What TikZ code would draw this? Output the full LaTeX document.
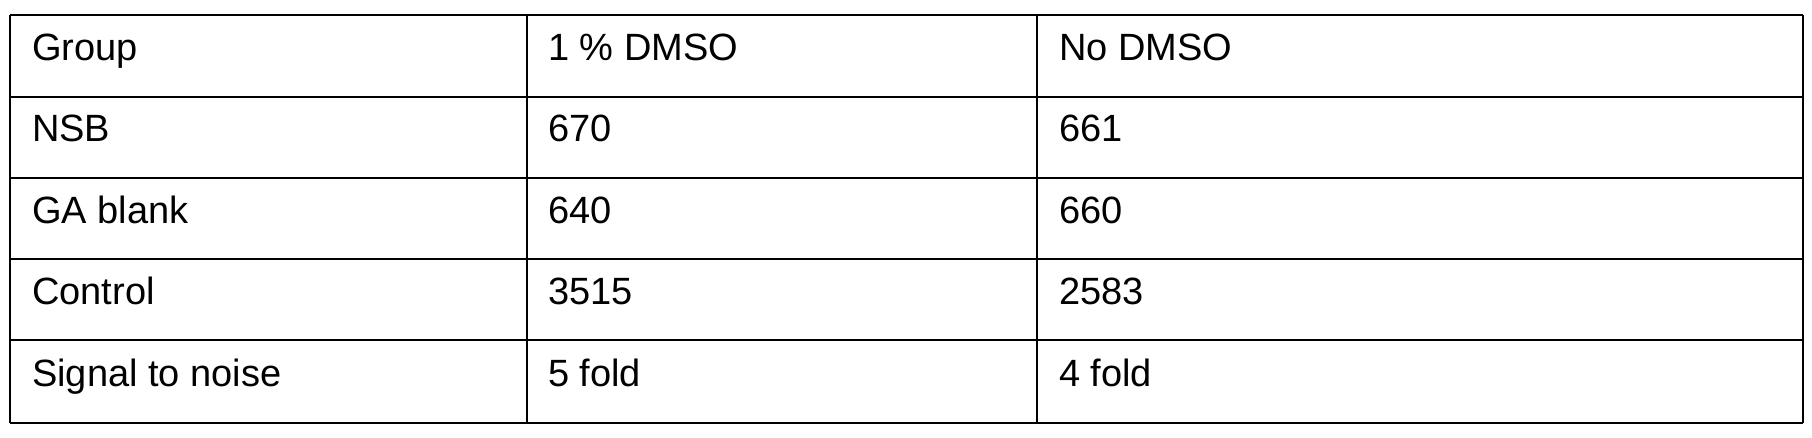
\documentclass[tikz,border=0pt]{standalone}
\usepackage{fontspec}
\setmainfont{Liberation Sans}
\begin{document}
\begin{tikzpicture}[x=1pt,y=-1pt,
  grid/.style={line width=2.6pt,black},
  cell/.style={anchor=base west,inner sep=0pt,font=\fontsize{38}{44}\selectfont}]
\useasboundingbox (0,0) rectangle (1812,437);
\foreach \y in {15,97,178,259,340,423} \draw[grid] (10,\y) -- (1803,\y);
\foreach \x in {10,527,1037,1803} \draw[grid] (\x,15) -- (\x,423);
\foreach \t [count=\i from 0] in {Group,NSB,GA blank,Control,Signal to noise}
  \node[cell] (a\i) at (32,{60+81.6*\i}) {\t};
\foreach \t [count=\i from 0] in {1 \% DMSO,670,640,3515,5 fold}
  \node[cell] (b\i) at (548,{60+81.6*\i}) {\t};
\foreach \t [count=\i from 0] in {No DMSO,661,660,2583,4 fold}
  \node[cell] (c\i) at (1059,{60+81.6*\i}) {\t};
\end{tikzpicture}
\end{document}
